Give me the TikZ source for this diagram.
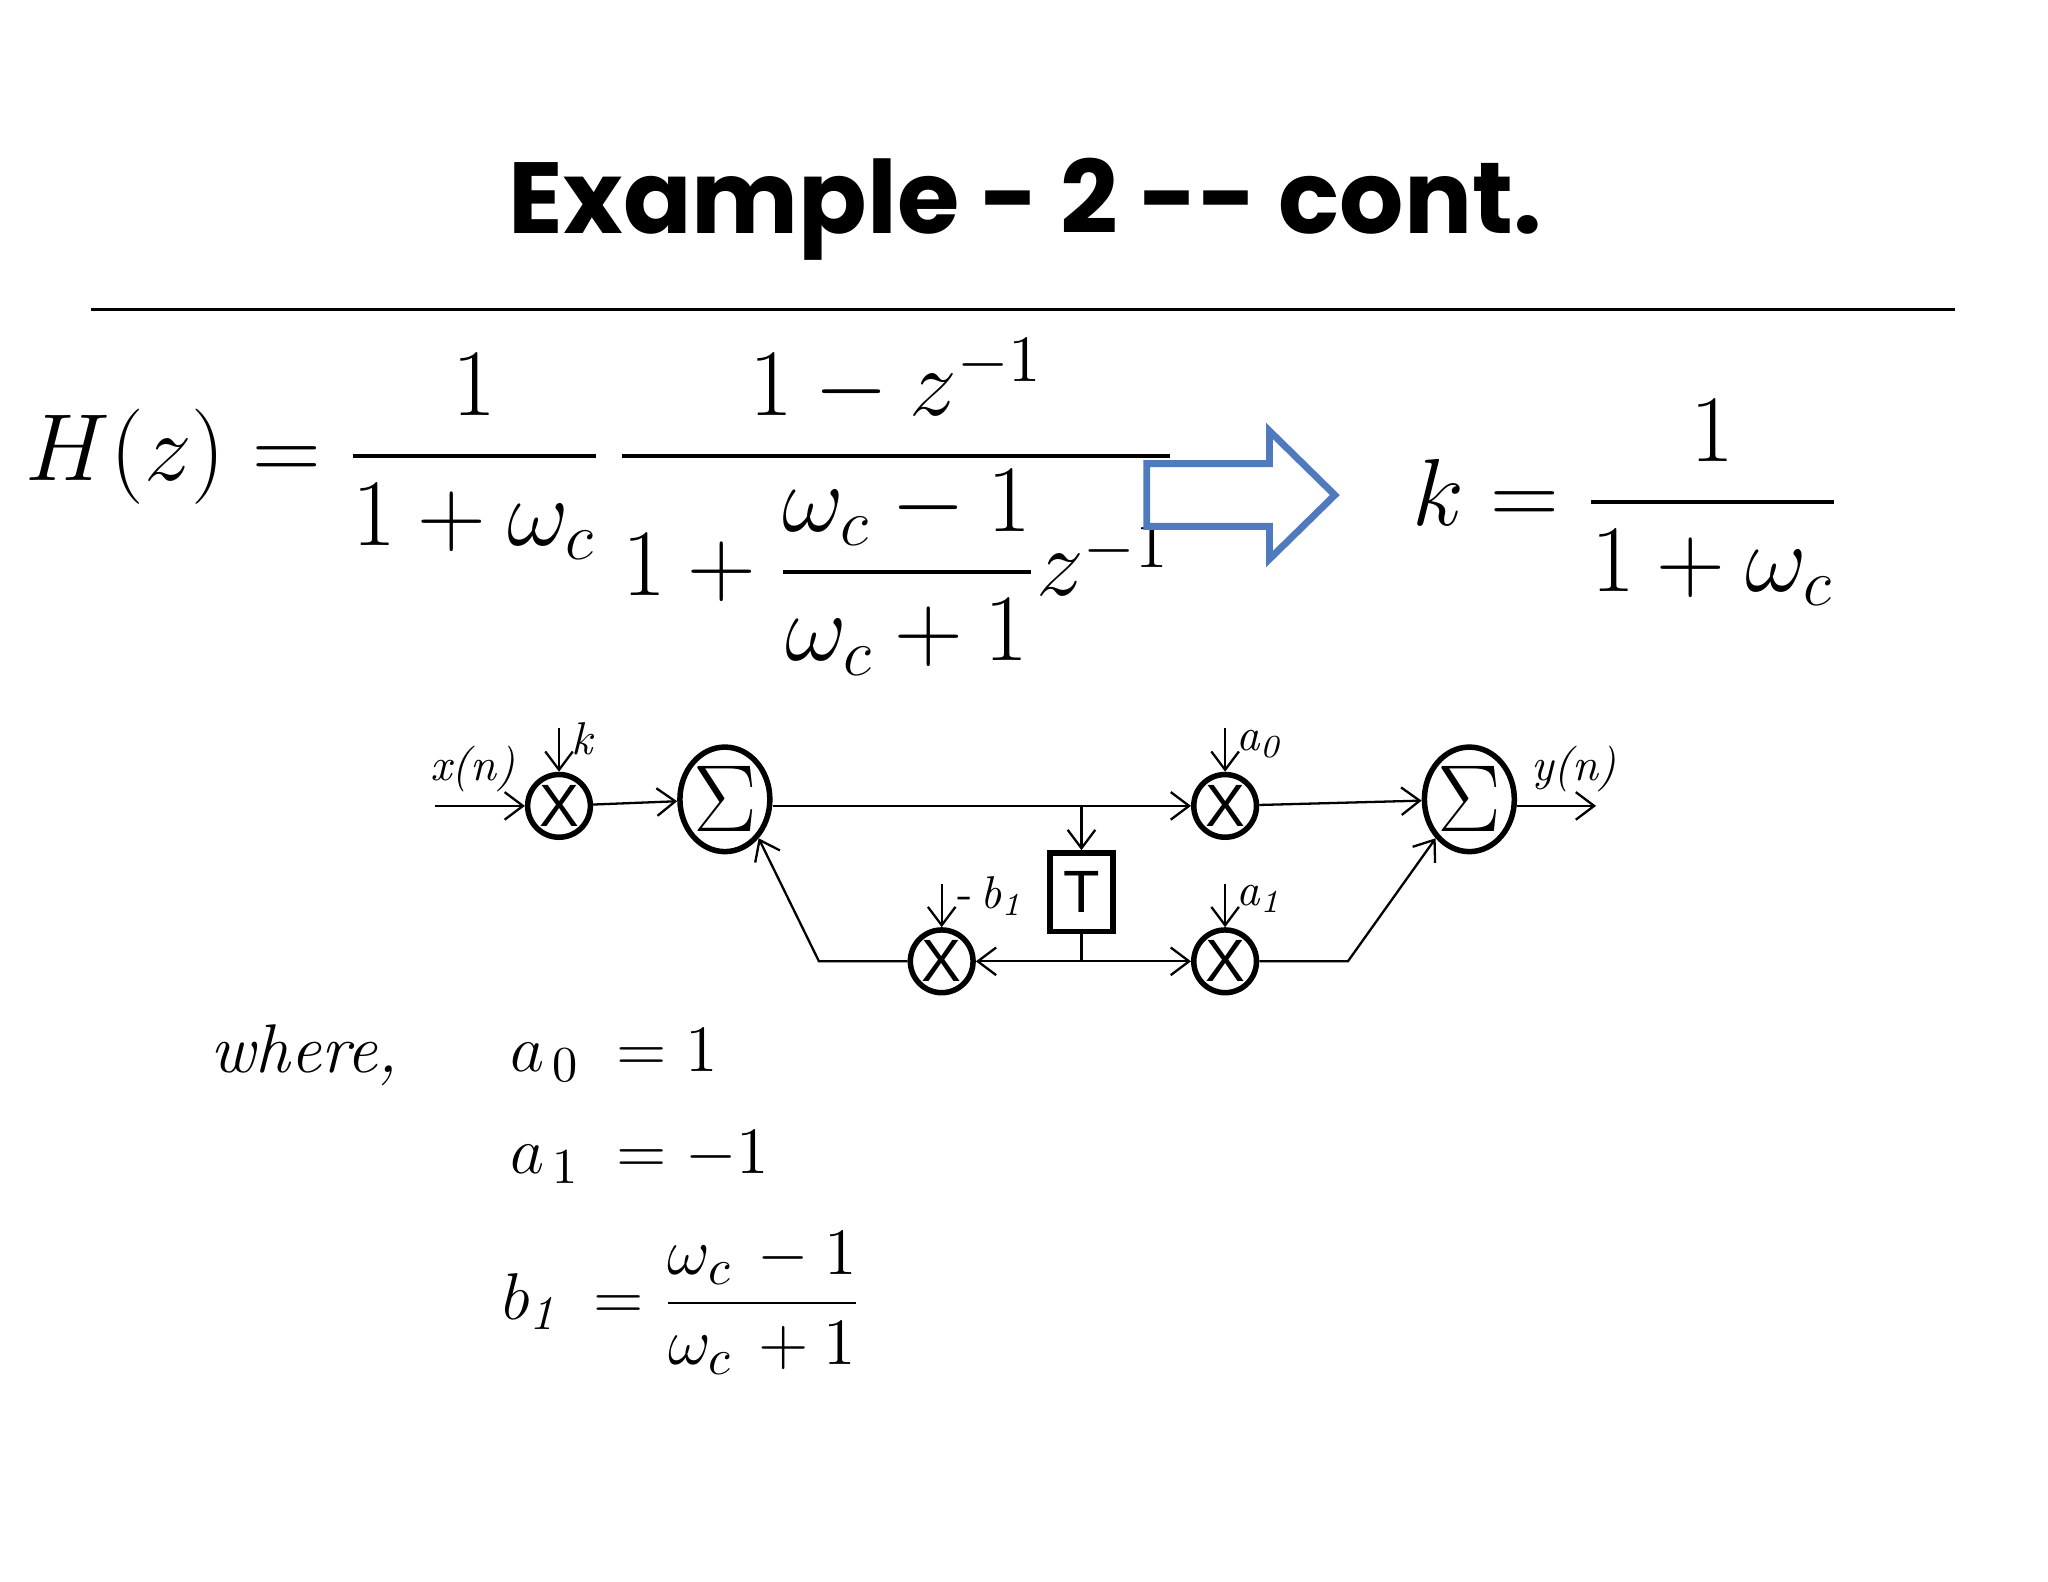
\documentclass[tikz,border=0pt]{standalone}
\usepackage{amsmath}
\usepackage{fontspec}
\newfontfamily\titlefont{Poppins}
\newfontfamily\sansf{Liberation Sans}
\usetikzlibrary{arrows.meta,shapes.geometric}
\begin{document}
\begin{tikzpicture}[x=0.01cm,y=-0.01cm,
  line width=0.5pt,
  arr/.style={-{Straight Barb[length=4pt,width=6pt]}},
  mult/.style={circle,draw,line width=1.2pt,minimum size=0.48cm,inner sep=0pt,font=\sansf\fontsize{13}{13}\selectfont},
  summ/.style={ellipse,draw,line width=1.2pt,minimum width=0.64cm,minimum height=0.8cm,inner sep=0pt,font=\fontsize{20}{20}\selectfont},
  lbl/.style={font=\fontsize{10}{10}\selectfont\itshape}]
\useasboundingbox (0,0) rectangle (1568,1211);
\node (title) at (785,160) {\titlefont\bfseries\fontsize{22}{26}\selectfont Example - 2 -- cont.};
\draw[line width=0.8pt] (70,237) -- (1497,237);
\node (H) at (460,388) {\fontsize{20}{24}\selectfont $\displaystyle H(z)=\frac{1}{1+\omega_c}\,\frac{1-z^{-1}}{1+\dfrac{\omega_c-1}{\omega_c+1}z^{-1}}$};
\draw[draw={rgb,255:red,79;green,123;blue,190},line width=1.5pt] (878,355) -- (972,355) -- (972,330) -- (1022,379) -- (972,428) -- (972,403) -- (878,403) -- cycle;
\node (K) at (1245,385) {\fontsize{20}{24}\selectfont $\displaystyle k=\frac{1}{1+\omega_c}$};
% diagram
\coordinate (in) at (333,617);
\node[mult] (m1) at (428,617) {X};
\node[summ] (s1) at (555,612) {$\Sigma$};
\node[mult] (m0) at (938,617) {X};
\node[summ] (s2) at (1125,612) {$\Sigma$};
\coordinate (out) at (1222,617);
\node[draw,line width=1.2pt,minimum width=0.48cm,minimum height=0.6cm,inner sep=0pt,font=\sansf\fontsize{13}{13}\selectfont] (T) at (828,683) {T};
\node[mult] (mb) at (721,736) {X};
\node[mult] (ma) at (938,736) {X};
\coordinate (tap) at (828,617);
\coordinate (bot) at (828,736);
\coordinate (fbl) at (627,736);
\coordinate (fbr) at (1032,736);
\draw[arr] (in) -- (m1);
\draw[arr] (m1) -- (s1);
\draw[arr] (s1.east |- m0) -- (m0);
\draw[arr] (m0) -- (s2);
\draw[arr] (s2.east |- out) -- (out);
\draw[arr] (tap) -- (T.north);
\draw (T.south) -- (bot);
\draw[arr] (bot) -- (mb);
\draw[arr] (bot) -- (ma);
\draw[arr] (mb) -- (fbl) -- (s1.south east);
\draw[arr] (ma) -- (fbr) -- (s2.south west);
\coordinate (k0) at (428,557); \draw[arr] (k0) -- (m1);
\coordinate (a00) at (938,557); \draw[arr] (a00) -- (m0);
\coordinate (b0) at (721,677); \draw[arr] (b0) -- (mb);
\coordinate (a10) at (938,677); \draw[arr] (a10) -- (ma);
\node[lbl] (xn) at (362,589) {x(n)};
\node[lbl] (yn) at (1205,589) {y(n)};
\node[lbl] (kl) at (446,566) {k};
\node[lbl] (a0l) at (964,570) {a\textsubscript{0}};
\node[lbl] (a1l) at (964,688) {a\textsubscript{1}};
\node[lbl] (bl) at (758,686) {\upshape -\,\itshape b\textsubscript{1}};
% where
\node[font=\fontsize{15}{18}\selectfont\itshape] (wh) at (233,808) {where,};
\node[anchor=west,font=\fontsize{15}{18}\selectfont] (e1) at (378,808) {$a_{\,0}\;=1$};
\node[anchor=west,font=\fontsize{15}{18}\selectfont] (e2) at (378,886) {$a_{\,1}\;=-1$};
\node[anchor=west,font=\fontsize{15}{18}\selectfont] (e3) at (372,998) {$b_{\mathit{1}}\;=\dfrac{\omega_c\,-1}{\omega_c\,+1}$};
\end{tikzpicture}
\end{document}
